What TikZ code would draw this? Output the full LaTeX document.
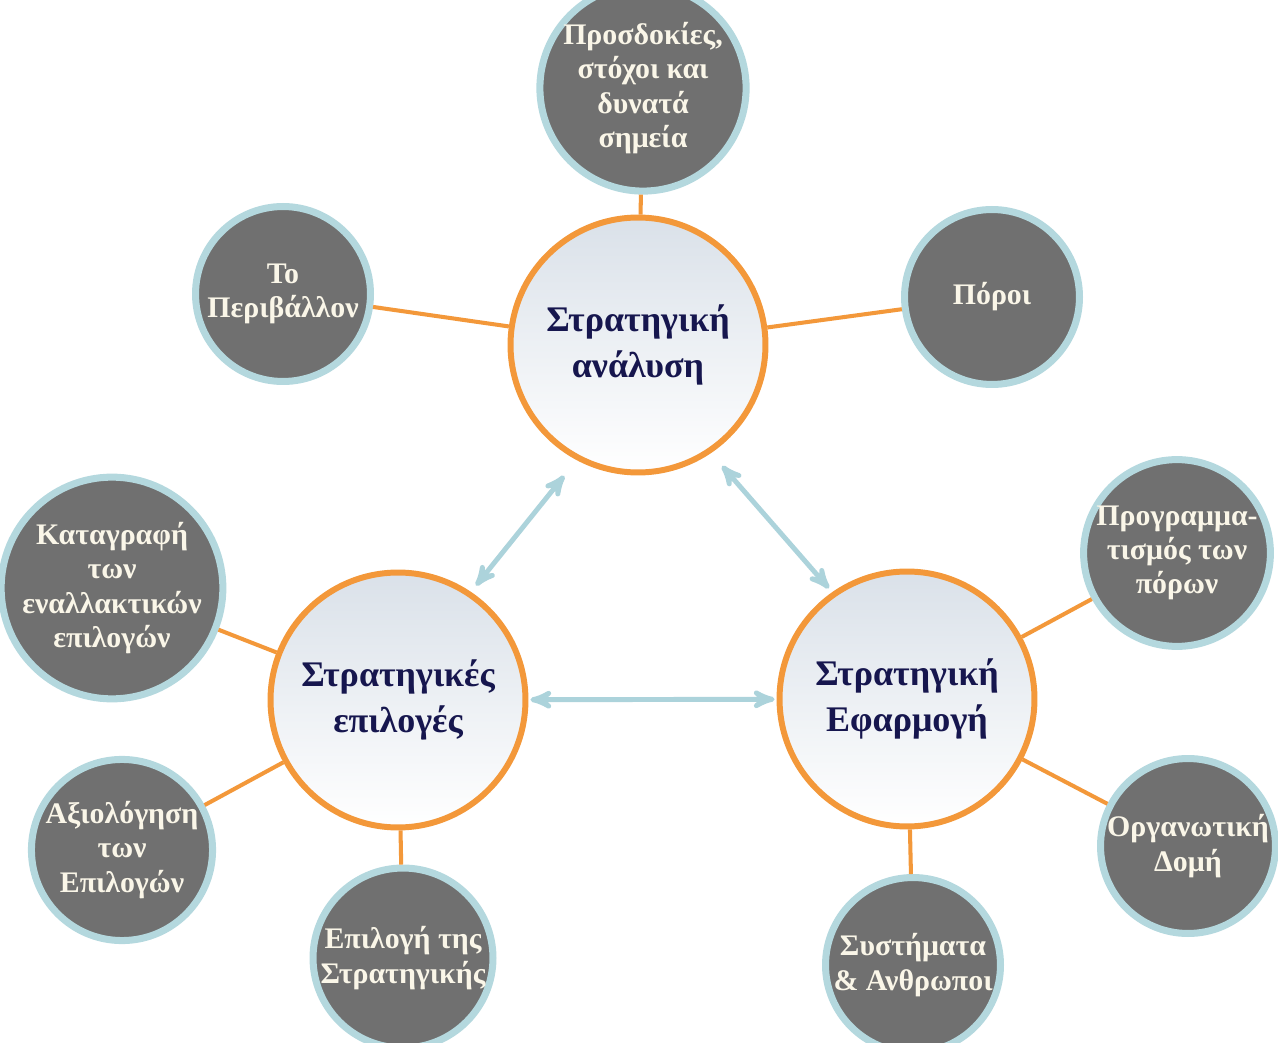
\documentclass[tikz,border=0pt]{standalone}
\usepackage{fontspec}
\setmainfont{Liberation Serif}
\usetikzlibrary{shapes}
\usetikzlibrary{arrows}
\definecolor{ringorange}{RGB}{243,152,58}
\definecolor{ringcyan}{RGB}{180,216,222}
\definecolor{satgray}{RGB}{112,112,112}
\definecolor{arrowblue}{RGB}{172,211,219}
\definecolor{labelnavy}{RGB}{22,22,78}
\definecolor{labelcream}{RGB}{250,246,232}
\definecolor{shadegray}{RGB}{218,225,233}
\tikzset{
	bubble/.style = {
		circle,
		align=center,
		inner sep=0pt
	},
	node_main/.style = {
		bubble,
		draw=ringorange,
		line width=3.4pt,
		top color=shadegray,
		bottom color=white,
		text=labelnavy,
		font=\bfseries\fontsize{20.5}{26}\selectfont,
		minimum size=5.1cm
	},
	node_sat/.style = {
		bubble,
		draw=ringcyan,
		fill=satgray,
		line width=4pt,
		text=labelcream,
		font=\bfseries\fontsize{17}{19.5}\selectfont,
		minimum size=3.5cm
	},
	edge_link/.style = {
		draw=ringorange,
		line width=2.3pt
	},
	edge_arrow/.style = {
		<->,
		>=stealth',
		draw=arrowblue,
		line width=2.8pt
	},
}

\begin{document}
\begin{tikzpicture}[x=0.02cm, y=-0.02cm]
\useasboundingbox (0,0) rectangle (1278,1043);
% the three stages
\node [node_main] (ana) at (638,345) {Στρατηγική\\ανάλυση};
\node [node_main] (cho) at (398,700) {Στρατηγικές\\επιλογές};
\node [node_main] (imp) at (907,699) {Στρατηγική\\Εφαρμογή};
% what each stage is made of
\node [node_sat, minimum size=4cm] (goals) at (643,88) {Προσδοκίες,\\στόχοι και\\δυνατά\\σημεία};
\node [node_sat] (env) at (283,294) {Το\\Περιβάλλον};
\node [node_sat] (res) at (992,297) {Πόροι};
\node [node_sat, minimum size=3.75cm] (list) at (112,588) {Καταγραφή\\των\\εναλλακτικών\\επιλογών};
\node [node_sat, minimum size=3.4cm] (eval) at (122,850) {Αξιολόγηση\\των\\Επιλογών};
\node [node_sat, minimum size=3.6cm] (pick) at (403,958) {Επιλογή της\\Στρατηγικής};
\node [node_sat, minimum size=3.45cm] (plan) at (1177,553) {Προγραμμα-\\τισμός των\\πόρων};
\node [node_sat] (org) at (1188,846) {Οργανωτική\\Δομή};
\node [node_sat] (sys) at (913,965) {Συστήματα\\\& Ανθρωποι};
\foreach \sat/\stage in {goals/ana, env/ana, res/ana, list/cho, eval/cho, pick/cho, plan/imp, org/imp, sys/imp}
	\draw [edge_link] (\sat) -- (\stage);
% the stages feed each other
\draw [edge_arrow, shorten <=0.4cm, shorten >=0.16cm] (ana.242) -- (cho.56);
\draw [edge_arrow, shorten <=0.34cm, shorten >=0.1cm] (ana.304) -- (imp.125);
\draw [edge_arrow, shorten <=0.04cm, shorten >=0.04cm] (cho) -- (imp);
\end{tikzpicture}
\end{document}
